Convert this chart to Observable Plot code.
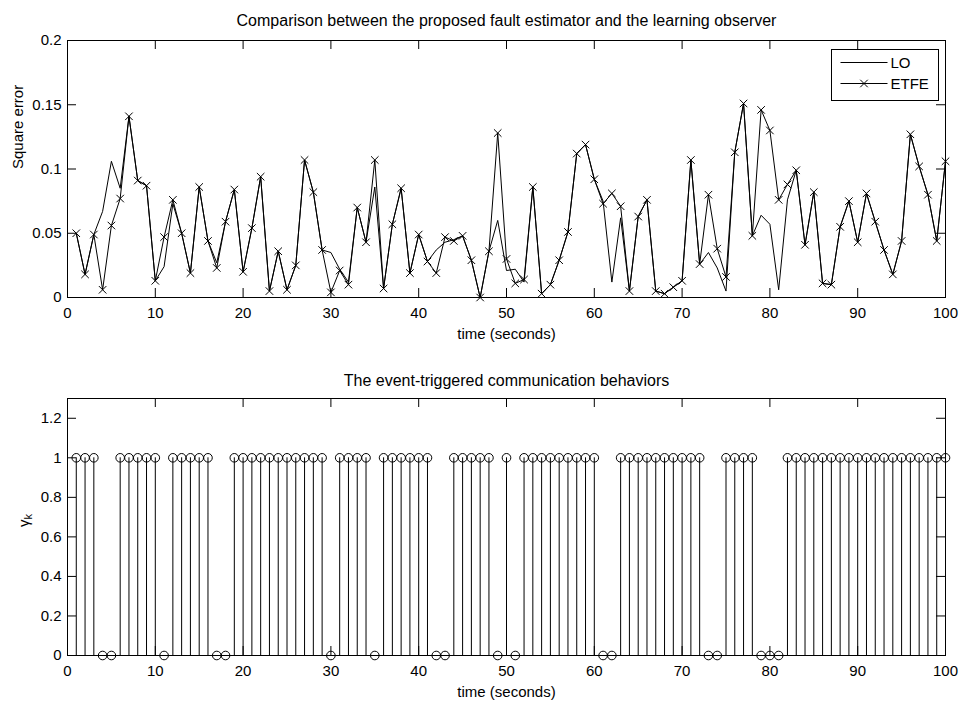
<!DOCTYPE html>
<html>
<head>
<meta charset="utf-8">
<script src="https://cdn.jsdelivr.net/npm/d3@7"></script>
<script src="https://cdn.jsdelivr.net/npm/@observablehq/plot@0.6"></script>
<style>
  body { margin: 0; background: #fff; }
  #chart { position: relative; width: 959px; height: 705px; background: #fff;
           font-family: "Liberation Sans", Arial, Helvetica, sans-serif; }
  #chart > svg { position: absolute; left: 0; }
</style>
</head>
<body>
<div id="chart"></div>
<script>
// time index k = 1 … 100
const steps = d3.range(1, 101);

// square estimation error of the learning observer (LO)
const loError = [
  0.050, 0.018, 0.049, 0.067, 0.106, 0.085, 0.141, 0.091, 0.087, 0.013,
  0.024, 0.073, 0.050, 0.019, 0.086, 0.044, 0.027, 0.059, 0.084, 0.020,
  0.054, 0.094, 0.005, 0.036, 0.006, 0.025, 0.107, 0.082, 0.037, 0.035,
  0.022, 0.012, 0.070, 0.043, 0.086, 0.007, 0.057, 0.085, 0.019, 0.049,
  0.028, 0.037, 0.043, 0.045, 0.048, 0.029, 0.000, 0.036, 0.060, 0.021,
  0.022, 0.012, 0.086, 0.003, 0.010, 0.029, 0.051, 0.112, 0.119, 0.092,
  0.075, 0.012, 0.062, 0.005, 0.063, 0.076, 0.005, 0.003, 0.008, 0.013,
  0.107, 0.026, 0.035, 0.023, 0.005, 0.113, 0.151, 0.048, 0.064, 0.057,
  0.006, 0.076, 0.099, 0.041, 0.082, 0.011, 0.010, 0.055, 0.075, 0.043,
  0.081, 0.059, 0.037, 0.018, 0.044, 0.127, 0.102, 0.080, 0.044, 0.106
];

// square estimation error of the event-triggered fault estimator (ETFE)
const etfeError = [
  0.050, 0.018, 0.049, 0.006, 0.056, 0.077, 0.141, 0.091, 0.087, 0.013,
  0.047, 0.076, 0.050, 0.019, 0.086, 0.044, 0.023, 0.059, 0.084, 0.020,
  0.054, 0.094, 0.005, 0.036, 0.006, 0.025, 0.107, 0.082, 0.037, 0.004,
  0.021, 0.010, 0.070, 0.043, 0.107, 0.007, 0.057, 0.085, 0.019, 0.049,
  0.028, 0.019, 0.047, 0.044, 0.048, 0.029, 0.000, 0.036, 0.128, 0.030,
  0.011, 0.014, 0.086, 0.003, 0.010, 0.029, 0.051, 0.112, 0.119, 0.092,
  0.073, 0.081, 0.071, 0.005, 0.063, 0.076, 0.005, 0.003, 0.008, 0.013,
  0.107, 0.026, 0.080, 0.038, 0.016, 0.113, 0.151, 0.048, 0.146, 0.130,
  0.076, 0.088, 0.099, 0.041, 0.082, 0.011, 0.010, 0.055, 0.075, 0.043,
  0.081, 0.059, 0.037, 0.018, 0.044, 0.127, 0.102, 0.080, 0.044, 0.106
];

// transmission indicator gamma_k (1 = measurement sent)
const gamma = [
  1, 1, 1, 0, 0, 1, 1, 1, 1, 1,
  0, 1, 1, 1, 1, 1, 0, 0, 1, 1,
  1, 1, 1, 1, 1, 1, 1, 1, 1, 0,
  1, 1, 1, 1, 0, 1, 1, 1, 1, 1,
  1, 0, 0, 1, 1, 1, 1, 1, 0, 1,
  0, 1, 1, 1, 1, 1, 1, 1, 1, 1,
  0, 0, 1, 1, 1, 1, 1, 1, 1, 1,
  1, 1, 0, 0, 1, 1, 1, 1, 0, 0,
  0, 1, 1, 1, 1, 1, 1, 1, 1, 1,
  1, 1, 1, 1, 1, 1, 1, 1, 1, 1
];

const timeTicks  = [0, 10, 20, 30, 40, 50, 60, 70, 80, 90, 100];
const errorTicks = [0, 0.05, 0.1, 0.15, 0.2];
const gammaTicks = [0, 0.2, 0.4, 0.6, 0.8, 1, 1.2];

const topTitle    = "Comparison between the proposed fault estimator and the learning observer";
const bottomTitle = "The event-triggered communication behaviors";
const xLabel      = "time (seconds)";
const errLabel    = "Square error";
const gammaLabel  = "γk";
const seriesNames = ["LO", "ETFE"];

const errorRows = steps.map((k, i) => ({k, lo: loError[i], etfe: etfeError[i]}));
const gammaRows = steps.map((k, i) => ({k, g: gamma[i]}));

const FONT = "\"Liberation Sans\", Arial, Helvetica, sans-serif";
const W = 959, ML = 67, MR = 14;
const FW = W - ML - MR;           // frame width
const FH = 257;                   // frame height
const TICK = 9;                   // inward tick length

// MATLAB-style boxed axes: frame plus inward ticks on all four sides
function boxAxes(xt, yt, yFormat) {
  return [
    Plot.frame({stroke: "black", strokeWidth: 1}),
    Plot.ruleX(xt, {x: d => d, insetTop: FH - TICK, stroke: "black", strokeWidth: 1}),
    Plot.ruleX(xt, {x: d => d, insetBottom: FH - TICK, stroke: "black", strokeWidth: 1}),
    Plot.ruleY(yt, {y: d => d, insetRight: FW - TICK, stroke: "black", strokeWidth: 1}),
    Plot.ruleY(yt, {y: d => d, insetLeft: FW - TICK, stroke: "black", strokeWidth: 1}),
    Plot.axisX({ticks: xt, tickSize: 0, tickPadding: 10, label: null, fontSize: 15}),
    Plot.axisY({ticks: yt, tickSize: 0, tickPadding: 6, label: null, fontSize: 15, tickFormat: yFormat})
  ];
}

function labels(title, titleGap, ylab, ylabOffset) {
  return [
    Plot.text([title], {frameAnchor: "top", lineAnchor: "bottom", dy: -titleGap, fontSize: 16, fill: "black"}),
    Plot.text([xLabel], {frameAnchor: "bottom", lineAnchor: "bottom", dy: 41, fontSize: 15, fill: "black"}),
    Plot.text([ylab], {frameAnchor: "left", lineAnchor: "bottom", rotate: -90, dx: -ylabOffset, fontSize: 15, fill: "black"})
  ];
}

const panelStyle = {fontFamily: FONT, fontSize: "15px", color: "black", background: "transparent", overflow: "visible"};
const fmt = d3.format("~g");

// upper panel: square error of both estimators
const errorPanel = Plot.plot({
  width: W, height: 350,
  marginLeft: ML, marginRight: MR, marginTop: 40, marginBottom: 53,
  x: {domain: [0, 100]},
  y: {domain: [0, 0.2]},
  style: panelStyle,
  marks: [
    Plot.line(errorRows, {x: "k", y: "lo", stroke: "black", strokeWidth: 1}),
    Plot.line(errorRows, {x: "k", y: "etfe", stroke: "black", strokeWidth: 1}),
    Plot.dot(errorRows, {x: "k", y: "etfe", symbol: "times", r: 3.5, stroke: "black", strokeWidth: 1}),
    ...boxAxes(timeTicks, errorTicks, fmt),
    ...labels(topTitle, 15, errLabel, 45)
  ]
});
errorPanel.style.top = "0px";

// lower panel: stem plot of the transmission indicator
const gammaPanel = Plot.plot({
  width: W, height: 355,
  marginLeft: ML, marginRight: MR, marginTop: 48, marginBottom: 50,
  x: {domain: [0, 100]},
  y: {domain: [0, 1.3]},
  style: panelStyle,
  marks: [
    Plot.ruleX(gammaRows, {x: "k", y1: 0, y2: "g", stroke: "black", strokeWidth: 1}),
    Plot.dot(gammaRows, {x: "k", y: "g", r: 4.3, stroke: "black", strokeWidth: 1, fill: "none"}),
    ...boxAxes(timeTicks, gammaTicks, fmt),
    ...labels(bottomTitle, 13, gammaLabel, 39)
  ]
});
gammaPanel.style.top = "350px";

// subscript k in the gamma_k label
gammaPanel.querySelectorAll("text").forEach(t => {
  if (t.textContent === gammaLabel) {
    t.textContent = "γ";
    const sub = document.createElementNS("http://www.w3.org/2000/svg", "tspan");
    sub.textContent = "k";
    sub.setAttribute("dy", "0.35em");
    sub.setAttribute("font-size", "11");
    t.appendChild(sub);
  }
});

const chart = document.getElementById("chart");
chart.appendChild(errorPanel);
chart.appendChild(gammaPanel);

// legend box for the upper panel
const leg = d3.select(chart).append("svg")
  .attr("width", W).attr("height", 705)
  .style("position", "absolute").style("top", "0px").style("left", "0px")
  .attr("font-family", FONT).attr("font-size", 15);
const lx = 831.5, ly = 49.5, lw = 107, lh = 51;
leg.append("rect").attr("x", lx).attr("y", ly).attr("width", lw).attr("height", lh)
  .attr("fill", "white").attr("stroke", "black");
seriesNames.forEach((name, i) => {
  const yy = ly + 13 + i * 21;
  leg.append("line").attr("x1", lx + 9).attr("x2", lx + 56).attr("y1", yy).attr("y2", yy)
    .attr("stroke", "black");
  if (i === 1) {
    leg.append("path").attr("d", d3.symbol(d3.symbolTimes, 3.5 * 3.5 * Math.PI)())
      .attr("transform", `translate(${lx + 32.5},${yy})`)
      .attr("fill", "none").attr("stroke", "black");
  }
  leg.append("text").attr("x", lx + 59).attr("y", yy).attr("dy", "0.36em").text(name);
});
</script>
</body>
</html>
